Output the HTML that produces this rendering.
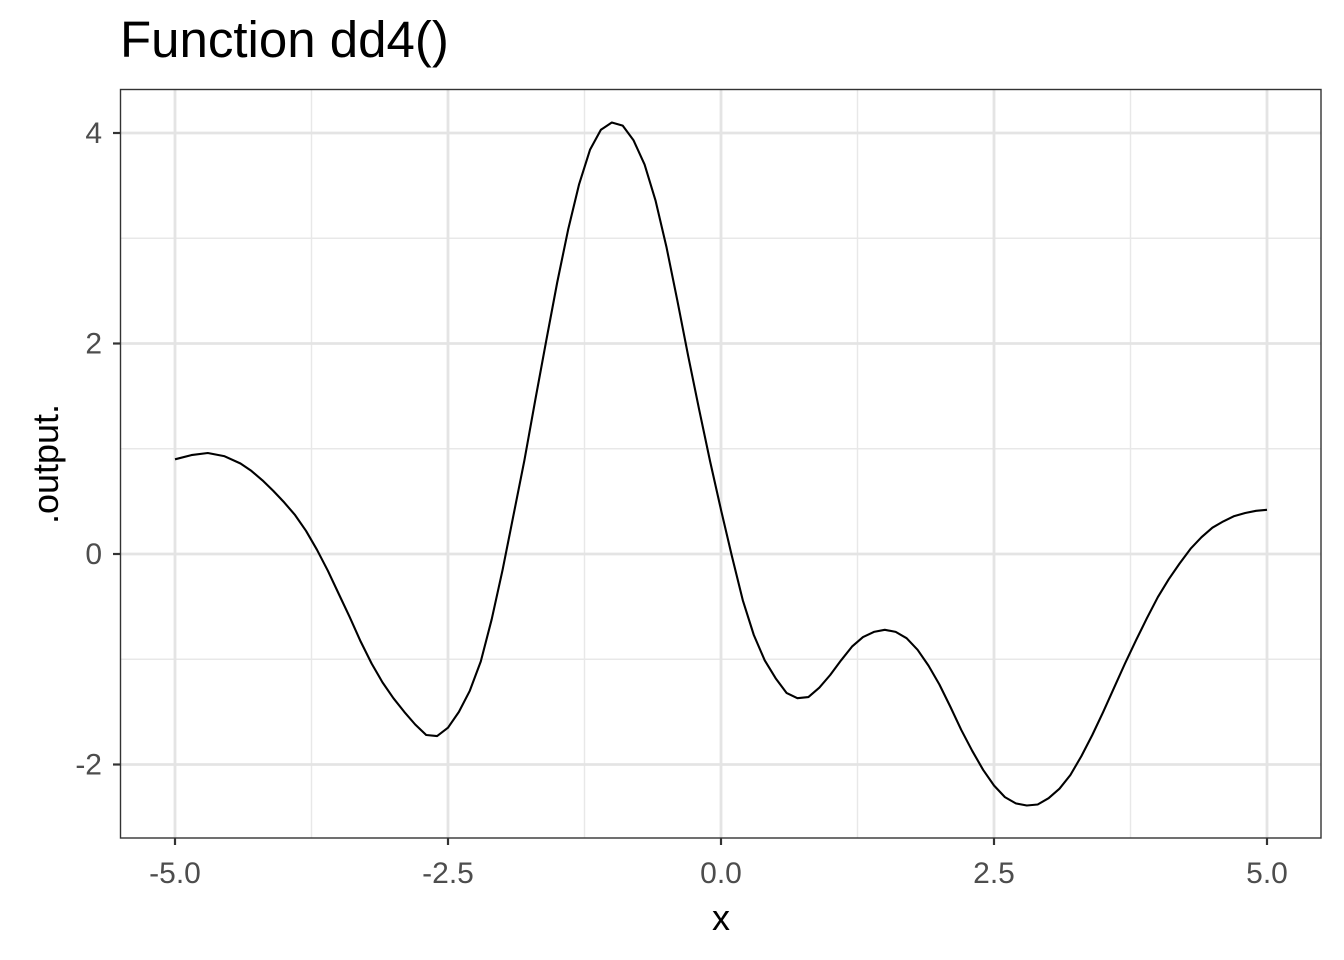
<!DOCTYPE html>
<html><head><meta charset="utf-8">
<style>
html,body{margin:0;padding:0;background:#fff;}
svg{display:block;font-family:"Liberation Sans",Arial,sans-serif;}
</style></head>
<body>
<svg id="chart" width="1344" height="960" viewBox="0 0 1344 960" xmlns="http://www.w3.org/2000/svg">
<rect x="0" y="0" width="1344" height="960" fill="#fff"/>
<text x="120" y="57" font-size="51" fill="#000">Function dd4()</text>
<g id="grid"></g>
<g id="marks"></g>
<rect x="120.5" y="89.5" width="1200.5" height="748.5" fill="none" stroke="#333" stroke-width="1.4"/>
<g id="axes"></g>
<text x="721" y="930" font-size="36" text-anchor="middle" fill="#000">x</text>
<text transform="translate(58,464) rotate(-90)" font-size="36" text-anchor="middle" fill="#000">.output.</text>
</svg>
<script>
const xs = [-5,-4.85,-4.7,-4.55,-4.4,-4.3,-4.2,-4.1,-4.0,-3.9,-3.8,-3.7,-3.6,-3.5,-3.4,-3.3,-3.2,-3.1,-3.0,-2.9,-2.8,-2.7,-2.6,-2.5,-2.4,-2.3,-2.2,-2.1,-2.0,-1.9,-1.8,-1.7,-1.6,-1.5,-1.4,-1.3,-1.2,-1.1,-1.0,-0.9,-0.8,-0.7,-0.6,-0.5,-0.4,-0.3,-0.2,-0.1,0,0.1,0.2,0.3,0.4,0.5,0.6,0.7,0.8,0.9,1.0,1.1,1.2,1.3,1.4,1.5,1.6,1.7,1.8,1.9,2.0,2.1,2.2,2.3,2.4,2.5,2.6,2.7,2.8,2.9,3.0,3.1,3.2,3.3,3.4,3.5,3.6,3.7,3.8,3.9,4.0,4.1,4.2,4.3,4.4,4.5,4.6,4.7,4.8,4.9,5.0];
const ys = [0.90,0.94,0.96,0.93,0.86,0.79,0.70,0.60,0.49,0.37,0.22,0.04,-0.16,-0.38,-0.60,-0.83,-1.04,-1.22,-1.37,-1.50,-1.62,-1.72,-1.73,-1.65,-1.50,-1.30,-1.02,-0.62,-0.15,0.37,0.89,1.47,2.03,2.58,3.08,3.51,3.84,4.03,4.10,4.07,3.93,3.70,3.36,2.92,2.41,1.88,1.37,0.88,0.42,-0.02,-0.44,-0.77,-1.01,-1.18,-1.32,-1.37,-1.36,-1.27,-1.15,-1.01,-0.88,-0.79,-0.74,-0.72,-0.74,-0.80,-0.91,-1.06,-1.24,-1.45,-1.67,-1.87,-2.05,-2.20,-2.31,-2.37,-2.39,-2.38,-2.32,-2.23,-2.10,-1.92,-1.72,-1.50,-1.27,-1.04,-0.82,-0.61,-0.41,-0.24,-0.09,0.05,0.16,0.25,0.31,0.36,0.39,0.41,0.42];
const xTicks = [-5,-2.5,0,2.5,5];
const xTickLabels = ["-5.0","-2.5","0.0","2.5","5.0"];
const xMinor = [-3.75,-1.25,1.25,3.75];
const yTicks = [-2,0,2,4];
const yTickLabels = ["-2","0","2","4"];
const yMinor = [-1,1,3];

const X = v => 175 + (v + 5) * 109.2;
const Y = v => 554 - v * 105.25;
const NS = "http://www.w3.org/2000/svg";
const grid = document.getElementById('grid'), marks = document.getElementById('marks'), axes = document.getElementById('axes');
function mk(tag, attrs, parent){const e=document.createElementNS(NS,tag);for(const k in attrs)e.setAttribute(k,attrs[k]);parent.appendChild(e);return e;}

yMinor.forEach(v=>{const l=mk('line',{x1:120,x2:1321,y1:Y(v),y2:Y(v),stroke:'#e8e8e8','stroke-width':1.4},grid);

});
xMinor.forEach(v=>{const l=mk('line',{x1:X(v),x2:X(v),y1:89,y2:838,stroke:'#e8e8e8','stroke-width':1.4},grid);

});
yTicks.forEach((v,i)=>{const l=mk('line',{x1:120,x2:1321,y1:Y(v),y2:Y(v),stroke:'#e4e4e4','stroke-width':2.8},grid);


const t=mk('line',{x1:113,x2:120,y1:Y(v),y2:Y(v),stroke:'#333','stroke-width':2.2},axes);


const tx=mk('text',{x:102,y:Y(v)+10,'font-size':30,'text-anchor':'end',fill:'#4d4d4d'},axes);tx.textContent=yTickLabels[i];

});
xTicks.forEach((v,i)=>{const l=mk('line',{x1:X(v),x2:X(v),y1:89,y2:838,stroke:'#e4e4e4','stroke-width':2.8},grid);


const t=mk('line',{x1:X(v),x2:X(v),y1:838,y2:845,stroke:'#333','stroke-width':2.2},axes);


const tx=mk('text',{x:X(v),y:883,'font-size':30,'text-anchor':'middle',fill:'#4d4d4d'},axes);tx.textContent=xTickLabels[i];

});

const pts = xs.map((x,i)=>X(x).toFixed(1)+','+Y(ys[i]).toFixed(1)).join(' ');
const line = mk('polyline',{points:pts,fill:'none',stroke:'#000','stroke-width':2.1,'stroke-linejoin':'round'},marks);


</script>
</body></html>
